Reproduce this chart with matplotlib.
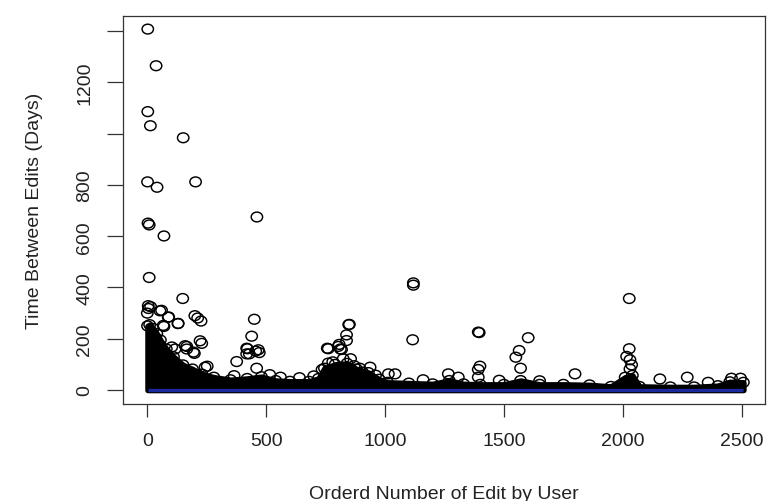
import numpy as np
import matplotlib
matplotlib.use("Agg")
import matplotlib.pyplot as plt
from matplotlib.path import Path
from matplotlib.transforms import Affine2D

# sparse edits: (ordered edit number, days since previous edit)
edit_num = [2, 37, 2, 13, 151, 1, 41, 203, 461, 3, 8, 70, 8, 1119, 1119, 149,
            1116, 450, 439, 847, 838, 2027, 1392, 1602,
            4, 14, 53, 60, 88, 130, 200, 212, 226, 67, 222, 229, 159, 117, 194,
            243, 252, 376, 421, 467, 429, 0, 5, 90, 129, 70, 166, 166, 198, 103,
            365, 418, 418, 456, 471, 460,
            850, 838, 807, 761, 817, 855, 824, 894, 937, 1014, 1042, 757, 803,
            812, 761,
            1396, 1399, 1392, 1392, 1266, 1308, 1564, 1550, 1570, 1799,
            2027, 2016, 2030, 2037, 2030, 2156, 2271, 2359, 2457, 2495,
            515, 560, 640, 700, 735, 780, 870, 905, 960, 1160, 1480, 1650]
days_between = [1408, 1265, 1086, 1031, 984, 812, 791, 812, 675, 651, 644, 601,
                439, 418, 409, 357, 196, 276, 210, 255, 215, 357, 226, 204,
                329, 325, 309, 311, 284, 260, 290, 281, 269, 252, 192, 182, 173,
                160, 148, 89, 93, 111, 161, 157, 141, 300, 318, 285, 259, 248,
                170, 160, 143, 168, 56, 163, 141, 152, 146, 85,
                256, 193, 178, 161, 158, 122, 122, 85, 89, 63, 63, 163, 170,
                160, 105,
                224, 93, 80, 50, 63, 50, 154, 128, 85, 63,
                161, 131, 118, 98, 82, 43, 50, 30, 46, 46,
                60, 50, 48, 55, 80, 110, 95, 70, 58, 40, 38, 36]

# upper edge of the crowded mass of short gaps
dense_x = [1, 10, 25, 40, 55, 80, 110, 150, 190, 230, 280, 350, 420, 480, 540,
           600, 680, 720, 745, 790, 840, 880, 930, 975, 1010, 1100, 1200, 1270,
           1330, 1400, 1500, 1570, 1650, 1750, 1860, 1950, 2010, 2040, 2070,
           2200, 2300, 2400, 2450, 2507]
dense_y = [250, 255, 240, 220, 195, 160, 130, 98, 82, 62, 50, 40, 45, 52, 37,
           34, 34, 45, 85, 100, 104, 82, 68, 42, 30, 27, 24, 37, 24, 22, 22, 37,
           22, 22, 20, 14, 50, 57, 14, 12, 12, 17, 32, 30]

fit_x = [1, 2507]
fit_y = [0, 0]

plt.rcParams['font.family'] = ['Liberation Sans', 'DejaVu Sans']

fig = plt.figure(figsize=(7.69, 5.02), dpi=100)
ax = fig.add_axes([0.16, 0.1932, 0.8348, 0.7729])

oval = Path.unit_circle().transformed(Affine2D().scale(1.0, 0.86))
msize = 8.2 ** 2

ax.fill_between(dense_x, 0, dense_y, facecolor='black', edgecolor='black',
                linewidth=4.0, joinstyle='round')
ax.scatter(dense_x, dense_y, marker=oval, s=msize, facecolors='none',
           edgecolors='black', linewidths=1.05)
ax.scatter(edit_num, days_between, marker=oval, s=msize, facecolors='none',
           edgecolors='black', linewidths=1.05)
ax.plot(fit_x, fit_y, color='#1a2a9e', linewidth=2.4, solid_capstyle='butt',
        zorder=5)

ax.set_xlim(-102, 2598)
ax.set_ylim(-54.6, 1459)

ax.set_xticks([0, 500, 1000, 1500, 2000, 2500])
ax.set_yticks([0, 200, 400, 600, 800, 1000, 1200, 1400])
ax.set_yticklabels(['0', '200', '400', '600', '800', '', '1200', ''],
                   rotation=90, va='center')

for s in ax.spines.values():
    s.set_color('#333333')
    s.set_linewidth(0.9)
ax.tick_params(axis='x', length=9.4, width=0.9, color='#333333', pad=11,
               labelsize=14, labelcolor='#222222')
ax.tick_params(axis='y', length=11.5, width=0.9, color='#333333', pad=10,
               labelsize=14, labelcolor='#222222')

ax.set_xlabel('Orderd Number of Edit by User', fontsize=14, color='#222222',
              labelpad=26)
ax.set_ylabel('Time Between Edits (Days)', fontsize=14, color='#222222',
              labelpad=24)

fig.savefig('out.png', dpi=100)
